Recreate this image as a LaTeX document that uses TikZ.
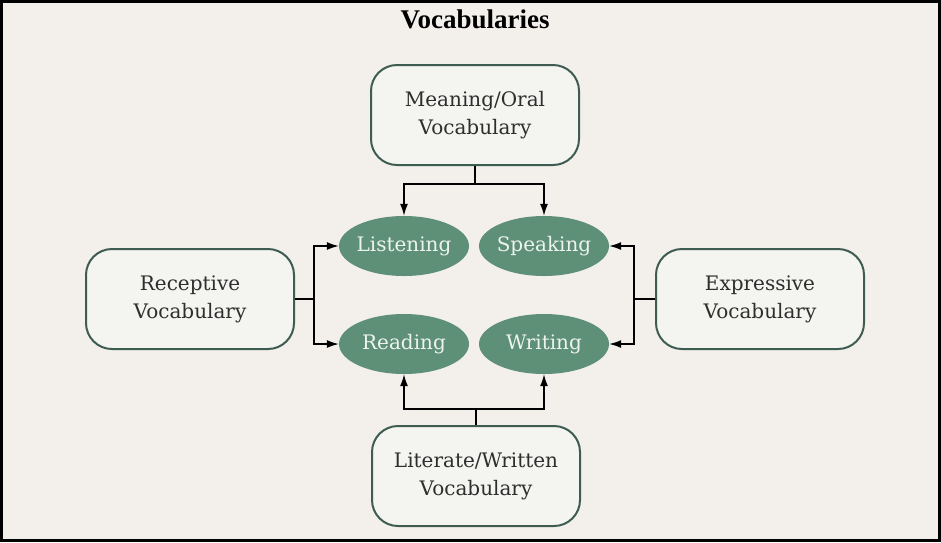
\documentclass[tikz,border=0pt]{standalone}
\usepackage{fontspec}
\setmainfont{DejaVu Serif}
\newfontfamily\titlefont{Liberation Serif}
\usetikzlibrary{arrows.meta,shapes.geometric}
\definecolor{bgpaper}{HTML}{F3F0EC}
\definecolor{boxline}{HTML}{3E5C52}
\definecolor{boxfill}{HTML}{F4F4F1}
\definecolor{boxtext}{HTML}{2E2E2E}
\definecolor{skillfill}{HTML}{5E8F77}
\definecolor{skilltext}{HTML}{EDF3EE}
\begin{document}
\begin{tikzpicture}[x=1pt,y=-1pt,
	vocbox/.style={draw=boxline, line width=2pt, fill=boxfill, rounded corners=26pt,
		minimum width=208pt, minimum height=100pt, align=center, text=boxtext,
		font=\fontsize{20}{28}\selectfont},
	skill/.style={ellipse, fill=skillfill, text=skilltext, minimum width=130pt,
		minimum height=60pt, inner xsep=-8pt, inner ysep=0pt, font=\fontsize{20}{22}\selectfont},
	link/.style={line width=1.3pt, -{Latex[length=12pt,width=8pt]}}]
	\fill[color=bgpaper] (0,0) rectangle (941,542);
	\draw[line width=3pt] (1.5,1.5) rectangle (939.5,540.5);
	\useasboundingbox (0,0) rectangle (941,542);
	%
	% Titel
	%
	\node (title) at (475,19) {\titlefont\bfseries\fontsize{27}{27}\selectfont Vocabularies};
	%
	% Kasten
	%
	\node[vocbox] (meaning) at (475,115) {Meaning/Oral\\Vocabulary};
	\node[vocbox] (literate) at (476,476) {Literate/Written\\Vocabulary};
	\node[vocbox] (receptive) at (190,299) {Receptive\\Vocabulary};
	\node[vocbox] (expressive) at (760,299) {Expressive\\Vocabulary};
	%
	% Ellipsen
	%
	\node[skill] (listening) at (404,246) {Listening};
	\node[skill] (speaking) at (544,246) {Speaking};
	\node[skill] (reading) at (404,344) {Reading};
	\node[skill] (writing) at (544,344) {Writing};
	%
	% Pfeile
	%
	\foreach \s in {listening,speaking}{
		\draw[link] (meaning.south) -- ++(0,18) -| (\s.north);
	}
	\foreach \s in {reading,writing}{
		\draw[link] (literate.north) -- ++(0,-16) -| (\s.south);
	}
	\foreach \s in {listening,reading}{
		\draw[link] (receptive.east) -- ++(19,0) |- (\s.west);
	}
	\foreach \s in {speaking,writing}{
		\draw[link] (expressive.west) -- ++(-21,0) |- (\s.east);
	}
\end{tikzpicture}
\end{document}
